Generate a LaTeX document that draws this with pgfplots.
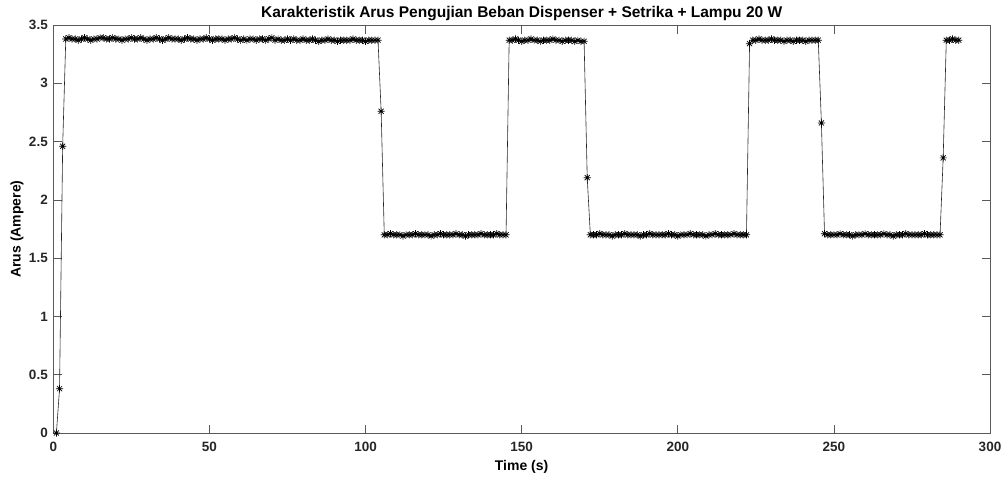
\documentclass[border=0pt]{standalone}
\usepackage{pgfplots}
\pgfplotsset{compat=1.18}
\usepackage{fontspec}
\setmainfont{Liberation Sans}
\definecolor{axgray}{RGB}{90,90,90}

% MATLAB-style '*' marker: a plus and a cross on top of each other
\pgfdeclareplotmark{mstar}{%
  \pgfpathmoveto{\pgfqpoint{-\pgfplotmarksize}{0pt}}\pgfpathlineto{\pgfqpoint{\pgfplotmarksize}{0pt}}%
  \pgfpathmoveto{\pgfqpoint{0pt}{-\pgfplotmarksize}}\pgfpathlineto{\pgfqpoint{0pt}{\pgfplotmarksize}}%
  \pgfpathmoveto{\pgfqpoint{-0.7\pgfplotmarksize}{-0.7\pgfplotmarksize}}\pgfpathlineto{\pgfqpoint{0.7\pgfplotmarksize}{0.7\pgfplotmarksize}}%
  \pgfpathmoveto{\pgfqpoint{-0.7\pgfplotmarksize}{0.7\pgfplotmarksize}}\pgfpathlineto{\pgfqpoint{0.7\pgfplotmarksize}{-0.7\pgfplotmarksize}}%
  \pgfusepathqstroke}

\begin{document}
\begin{tikzpicture}[x=1pt,y=1pt]
% page frame: axis box sits at (0,0)-(936.7,408)
\path[use as bounding box] (-53.3,-44) rectangle (952.7,433);
\begin{axis}[
    at={(0,0)}, anchor=south west,
    scale only axis,
    width=936.7pt, height=408pt,
    xmin=0, xmax=300,
    ymin=0, ymax=3.5,
    xtick={0,50,100,150,200,250,300},
    ytick={0,0.5,1,1.5,2,2.5,3,3.5},
    /pgf/number format/assume math mode=true,
    tick align=inside,
    major tick length=8.5pt,
    axis line style={axgray, line width=0.7pt},
    every tick/.style={axgray, line width=0.7pt},
    every tick label/.append style={font=\bfseries\fontsize{13.5}{15}\selectfont, text=black!85},
    xticklabel style={anchor=center, yshift=-14pt},
    yticklabel style={xshift=-2pt},
    title={Karakteristik Arus Pengujian Beban Dispenser + Setrika + Lampu 20 W},
    title style={font=\bfseries\fontsize{15.5}{17}\selectfont, at={(0.5,1.014)}, anchor=center},
    xlabel={Time (s)},
    xlabel style={font=\bfseries\fontsize{14}{16}\selectfont, at={(0.5,-0.082)}, anchor=center},
    ylabel={Arus (Ampere)},
    ylabel style={font=\bfseries\fontsize{14}{16}\selectfont, at={(-0.0388,0.5)}, anchor=center},
]
\addplot[black!85, line width=0.6pt, mark=mstar, mark size=3.6pt, mark options={black, line width=0.7pt}]
coordinates {
(1,0)(2,0.38)(3,2.46)
(4,3.38)(5,3.39)(6,3.38)(7,3.38)(8,3.37)(9,3.38)(10,3.39)(11,3.38)(12,3.37)(13,3.38)
(14,3.38)(15,3.39)(16,3.39)(17,3.38)(18,3.38)(19,3.39)(20,3.38)(21,3.38)(22,3.37)(23,3.38)
(24,3.38)(25,3.39)(26,3.38)(27,3.38)(28,3.39)(29,3.38)(30,3.37)(31,3.38)(32,3.38)(33,3.39)
(34,3.38)(35,3.37)(36,3.38)(37,3.39)(38,3.38)(39,3.38)(40,3.38)(41,3.37)(42,3.38)(43,3.39)
(44,3.38)(45,3.38)(46,3.37)(47,3.38)(48,3.38)(49,3.39)(50,3.38)(51,3.37)(52,3.38)(53,3.38)
(54,3.38)(55,3.37)(56,3.38)(57,3.38)(58,3.39)(59,3.38)(60,3.37)(61,3.38)(62,3.37)(63,3.38)
(64,3.38)(65,3.37)(66,3.38)(67,3.38)(68,3.37)(69,3.38)(70,3.39)(71,3.37)(72,3.38)(73,3.37)
(74,3.37)(75,3.38)(76,3.37)(77,3.38)(78,3.37)(79,3.37)(80,3.38)(81,3.37)(82,3.37)(83,3.38)
(84,3.37)(85,3.36)(86,3.37)(87,3.37)(88,3.38)(89,3.37)(90,3.37)(91,3.36)(92,3.37)(93,3.37)
(94,3.37)(95,3.37)(96,3.38)(97,3.37)(98,3.37)(99,3.37)(100,3.36)(101,3.37)(102,3.37)(103,3.37)
(104,3.37)(105,2.76)
(106,1.70)(107,1.70)(108,1.71)(109,1.70)(110,1.70)(111,1.70)(112,1.69)(113,1.70)(114,1.70)(115,1.70)
(116,1.71)(117,1.70)(118,1.70)(119,1.70)(120,1.70)(121,1.69)(122,1.70)(123,1.70)(124,1.71)(125,1.70)
(126,1.70)(127,1.70)(128,1.70)(129,1.71)(130,1.70)(131,1.70)(132,1.69)(133,1.70)(134,1.70)(135,1.70)
(136,1.70)(137,1.71)(138,1.70)(139,1.70)(140,1.70)(141,1.70)(142,1.71)(143,1.70)(144,1.70)(145,1.70)
(146,3.37)(147,3.37)(148,3.38)(149,3.37)(150,3.36)(151,3.37)(152,3.37)(153,3.38)(154,3.37)(155,3.37)
(156,3.36)(157,3.37)(158,3.37)(159,3.37)(160,3.38)(161,3.37)(162,3.37)(163,3.36)(164,3.37)(165,3.37)
(166,3.37)(167,3.36)(168,3.37)(169,3.36)(170,3.36)(171,2.19)
(172,1.70)(173,1.70)(174,1.70)(175,1.71)(176,1.70)(177,1.70)(178,1.70)(179,1.69)(180,1.70)(181,1.70)
(182,1.70)(183,1.71)(184,1.70)(185,1.70)(186,1.70)(187,1.70)(188,1.69)(189,1.70)(190,1.70)(191,1.71)
(192,1.70)(193,1.70)(194,1.70)(195,1.70)(196,1.70)(197,1.71)(198,1.70)(199,1.70)(200,1.69)(201,1.70)
(202,1.70)(203,1.70)(204,1.71)(205,1.70)(206,1.70)(207,1.70)(208,1.70)(209,1.69)(210,1.70)(211,1.70)
(212,1.71)(213,1.70)(214,1.70)(215,1.70)(216,1.70)(217,1.70)(218,1.71)(219,1.70)(220,1.70)(221,1.70)
(222,1.70)(223,3.34)
(224,3.37)(225,3.37)(226,3.38)(227,3.37)(228,3.37)(229,3.37)(230,3.38)(231,3.37)(232,3.37)(233,3.37)
(234,3.36)(235,3.37)(236,3.37)(237,3.36)(238,3.37)(239,3.37)(240,3.37)(241,3.36)(242,3.37)(243,3.37)
(244,3.37)(245,3.37)(246,2.66)
(247,1.71)(248,1.70)(249,1.70)(250,1.70)(251,1.70)(252,1.71)(253,1.70)(254,1.70)(255,1.70)(256,1.69)
(257,1.70)(258,1.70)(259,1.70)(260,1.71)(261,1.70)(262,1.70)(263,1.70)(264,1.70)(265,1.70)(266,1.71)
(267,1.70)(268,1.70)(269,1.69)(270,1.70)(271,1.70)(272,1.70)(273,1.71)(274,1.70)(275,1.70)(276,1.70)
(277,1.70)(278,1.70)(279,1.71)(280,1.70)(281,1.70)(282,1.70)(283,1.70)(284,1.70)(285,2.36)
(286,3.37)(287,3.37)(288,3.38)(289,3.37)(290,3.37)
};
\end{axis}
\end{tikzpicture}
\end{document}
